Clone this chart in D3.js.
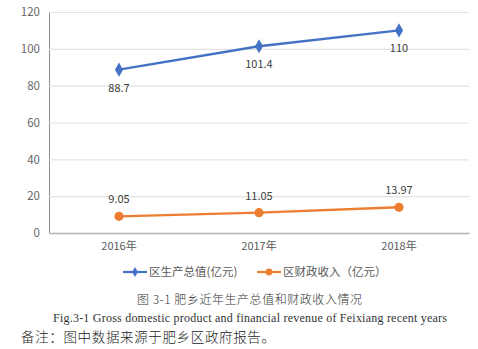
<!DOCTYPE html>
<html>
<head>
<meta charset="utf-8">
<script src="https://cdn.jsdelivr.net/npm/d3@7"></script>
<style>
  html, body { margin: 0; padding: 0; background: #fff; }
  svg { display: block; }
</style>
</head>
<body>
<svg id="chart" width="478" height="349"></svg>
<script>
// Years on the x axis
const categories = ["2016年", "2017年", "2018年"];
// District GDP (100 million yuan)
const gdpValues = [88.7, 101.4, 110];
// District fiscal revenue (100 million yuan)
const revenueValues = [9.05, 11.05, 13.97];
// Y axis ticks
const yTicks = [0, 20, 40, 60, 80, 100, 120];
const seriesNames = ["区生产总值(亿元)", "区财政收入（亿元）"];
const captionCn = "图 3-1  肥乡近年生产总值和财政收入情况";
const captionEn = "Fig.3-1 Gross domestic product and financial revenue of Feixiang recent years";
const noteText = "备注：图中数据来源于肥乡区政府报告。";

const svg = d3.select("#chart");
const plot = { left: 49, right: 469, top: 12, bottom: 233 };
const sans = "'Noto Sans CJK SC', 'Open Sans', sans-serif";

const x = d3.scaleBand().domain(categories).range([plot.left, plot.right]);
const y = d3.scaleLinear().domain([0, 120]).range([plot.bottom, plot.top]);
const cx = c => x(c) + x.bandwidth() / 2;

// Horizontal gridlines
const yAxis = d3.axisLeft(y).tickValues(yTicks).tickSize(-(plot.right - plot.left)).tickPadding(9);
const gy = svg.append("g").attr("transform", `translate(${plot.left},0)`).call(yAxis);
gy.select(".domain").attr("stroke", "#8c8c8c").attr("stroke-width", 1);
gy.selectAll(".tick line").attr("stroke", "#e3e3e3").attr("stroke-width", 1.2);
gy.selectAll(".tick text").attr("fill", "#666").attr("font-size", 11.5).attr("font-family", sans);

// Category axis along the baseline
const xAxis = d3.axisBottom(x).tickSize(0).tickPadding(9);
const gx = svg.append("g").attr("transform", `translate(0,${plot.bottom})`).call(xAxis);
gx.select(".domain").attr("stroke", "#b4b4b4").attr("stroke-width", 1.5);
gx.selectAll(".tick text").attr("fill", "#595959").attr("font-size", 11).attr("font-family", sans);

const blue = "#4472c4", orange = "#ed7d31";
const line = d3.line().x((d, i) => cx(categories[i])).y(d => y(d));

// GDP series
svg.append("path").datum(gdpValues).attr("d", line)
  .attr("fill", "none").attr("stroke", blue).attr("stroke-width", 2.4);
const diamond = d3.symbol().type(d3.symbolDiamond).size(58);
svg.selectAll(".gdp-pt").data(gdpValues).join("path")
  .attr("transform", (d, i) => `translate(${cx(categories[i])},${y(d)})`)
  .attr("d", diamond).attr("fill", blue);
svg.selectAll(".gdp-lbl").data(gdpValues).join("text")
  .attr("x", (d, i) => cx(categories[i])).attr("y", d => y(d) + 22)
  .attr("text-anchor", "middle").attr("font-size", 11).attr("font-family", sans)
  .attr("fill", "#404040").text(d => d);

// Revenue series
svg.append("path").datum(revenueValues).attr("d", line)
  .attr("fill", "none").attr("stroke", orange).attr("stroke-width", 2.4);
svg.selectAll(".rev-pt").data(revenueValues).join("circle")
  .attr("cx", (d, i) => cx(categories[i])).attr("cy", d => y(d))
  .attr("r", 4.6).attr("fill", orange);
svg.selectAll(".rev-lbl").data(revenueValues).join("text")
  .attr("x", (d, i) => cx(categories[i])).attr("y", d => y(d) - 13)
  .attr("text-anchor", "middle").attr("font-size", 11).attr("font-family", sans)
  .attr("fill", "#404040").text(d => d.toFixed(2));

// Legend
const legend = [
  { name: seriesNames[0], color: blue, x0: 123, marker: "diamond" },
  { name: seriesNames[1], color: orange, x0: 257, marker: "circle" }
];
const ly = 272;
legend.forEach(l => {
  const g = svg.append("g");
  g.append("line").attr("x1", l.x0).attr("x2", l.x0 + 24).attr("y1", ly).attr("y2", ly)
    .attr("stroke", l.color).attr("stroke-width", 2.2);
  if (l.marker === "diamond") {
    g.append("path").attr("transform", `translate(${l.x0 + 12},${ly})`)
      .attr("d", d3.symbol().type(d3.symbolDiamond).size(30)).attr("fill", l.color);
  } else {
    g.append("circle").attr("cx", l.x0 + 12).attr("cy", ly).attr("r", 3.4).attr("fill", l.color);
  }
  g.append("text").attr("x", l.x0 + 26).attr("y", ly + 4)
    .attr("font-size", 11.5).attr("font-family", sans).attr("fill", "#595959").text(l.name);
});

// Captions and note
svg.append("text").attr("x", 137).attr("y", 304)
  .attr("font-size", 12).attr("font-family", "'Noto Sans CJK SC', sans-serif")
  .attr("font-weight", 300).attr("fill", "#333").attr("textLength", 225)
  .attr("lengthAdjust", "spacing").text(captionCn);
svg.append("text").attr("x", 53).attr("y", 322)
  .attr("font-size", 12).attr("font-family", "'Liberation Serif', serif")
  .attr("fill", "#333").attr("textLength", 394).attr("lengthAdjust", "spacing")
  .text(captionEn);
svg.append("text").attr("x", 21).attr("y", 342)
  .attr("font-size", 13.5).attr("font-family", "'Noto Sans CJK SC', sans-serif")
  .attr("font-weight", 300).attr("fill", "#222").attr("textLength", 254)
  .attr("lengthAdjust", "spacing").text(noteText);
</script>
</body>
</html>
